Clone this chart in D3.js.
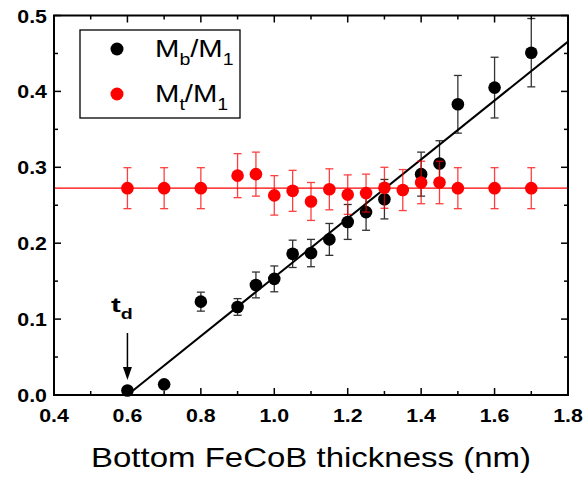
<!DOCTYPE html>
<html><head><meta charset="utf-8">
<script src="https://cdn.jsdelivr.net/npm/d3@7"></script>
<style>body{margin:0;background:#fff}svg{display:block}text{font-family:Arial,"Liberation Sans",sans-serif}</style>
</head><body><svg id="c" width="585" height="477"></svg>
<script>
const xTicks = [0.4, 0.6, 0.8, 1.0, 1.2, 1.4, 1.6, 1.8];
const yTicks = [0.0, 0.1, 0.2, 0.3, 0.4, 0.5];
const bX   = [0.6, 0.7, 0.8, 0.9, 0.95, 1.0, 1.05, 1.1, 1.15, 1.2, 1.25, 1.3, 1.4, 1.45, 1.5, 1.6, 1.7];
const bY   = [0.006, 0.014, 0.123, 0.116, 0.145, 0.153, 0.186, 0.187, 0.205, 0.228, 0.241, 0.258, 0.291, 0.305, 0.383, 0.405, 0.451];
const bErr = [0, 0, 0.0125, 0.011, 0.017, 0.017, 0.018, 0.018, 0.021, 0.023, 0.024, 0.026, 0.029, 0.030, 0.038, 0.040, 0.045];
const rX   = [0.6, 0.7, 0.8, 0.9, 0.95, 1.0, 1.05, 1.1, 1.15, 1.2, 1.25, 1.3, 1.35, 1.4, 1.45, 1.5, 1.6, 1.7];
const rY   = [0.2725, 0.2725, 0.2725, 0.289, 0.291, 0.263, 0.269, 0.255, 0.271, 0.264, 0.266, 0.273, 0.270, 0.280, 0.280, 0.2725, 0.2725, 0.2725];
const rErr = [0.027, 0.027, 0.027, 0.029, 0.029, 0.026, 0.027, 0.025, 0.027, 0.026, 0.025, 0.027, 0.027, 0.028, 0.028, 0.027, 0.027, 0.027];
const fitLine = [[0.6, 0.0], [1.8, 0.4656]];
const refLevel = 0.2725;
const seriesNames = ["b", "t"];
const xLabel = "Bottom FeCoB thickness (nm)";

const svg = d3.select("#c");
const L = 54, R = 568, T = 15.5, B = 395;
const x = d3.scaleLinear().domain([0.4, 1.8]).range([L, R]);
const y = d3.scaleLinear().domain([0, 0.5]).range([B, T]);

// text placed with a horizontal stretch (reference glyphs are wide)
function stext(px, py, sx, anchor) {
  return svg.append("g").attr("transform", `translate(${px},${py}) scale(${sx},1)`)
    .append("text").attr("text-anchor", anchor || "start");
}

// ticks (inside)
const g = svg.append("g");
const xMinor = d3.range(0.5, 1.8, 0.2);
const yMinor = d3.range(0.05, 0.5, 0.1);
function drawTicks(vals, len) {
  vals.forEach(v => {
    const px = x(v);
    g.append("line").attr("x1", px).attr("x2", px).attr("y1", B).attr("y2", B - len).attr("stroke", "#000").attr("stroke-width", 1.5);
    g.append("line").attr("x1", px).attr("x2", px).attr("y1", T).attr("y2", T + len).attr("stroke", "#000").attr("stroke-width", 1.5);
  });
}
function drawYTicks(vals, len) {
  vals.forEach(v => {
    const py = y(v);
    g.append("line").attr("x1", L).attr("x2", L + len).attr("y1", py).attr("y2", py).attr("stroke", "#000").attr("stroke-width", 1.5);
    g.append("line").attr("x1", R).attr("x2", R - len).attr("y1", py).attr("y2", py).attr("stroke", "#000").attr("stroke-width", 1.5);
  });
}
drawTicks(xTicks, 7); drawTicks(xMinor, 4);
drawYTicks(yTicks, 7); drawYTicks(yMinor, 4);

// tick labels
xTicks.forEach(v => {
  stext(x(v), 422, 1.22, "middle").attr("font-size", 17.5).attr("font-weight", "bold").text(v.toFixed(1));
});
yTicks.forEach(v => {
  stext(47, y(v) + 7, 1.22, "end").attr("font-size", 17.5).attr("font-weight", "bold").text(v.toFixed(1));
});

// reference line
svg.append("line").attr("x1", x(0.4)).attr("x2", x(1.8)).attr("y1", y(refLevel)).attr("y2", y(refLevel))
  .attr("stroke", "#ff0000").attr("stroke-width", 1.3);

function errBars(xs, ys, es, color, op) {
  xs.forEach((xv, i) => {
    if (!es[i]) return;
    const px = x(xv), y1 = y(ys[i] + es[i]), y2 = y(ys[i] - es[i]);
    const eg = svg.append("g").attr("stroke", color).attr("stroke-width", 1.3).attr("opacity", op);
    eg.append("line").attr("x1", px).attr("x2", px).attr("y1", y1).attr("y2", y2);
    eg.append("line").attr("x1", px - 4).attr("x2", px + 4).attr("y1", y1).attr("y2", y1);
    eg.append("line").attr("x1", px - 4).attr("x2", px + 4).attr("y1", y2).attr("y2", y2);
  });
}
errBars(bX, bY, bErr, "#000", 0.8);
svg.append("g").selectAll("circle").data(bX).join("circle")
  .attr("cx", d => x(d)).attr("cy", (d, i) => y(bY[i])).attr("r", 6.3).attr("fill", "#000");

// fit line
svg.append("path").attr("d", d3.line().x(d => x(d[0])).y(d => y(d[1]))(fitLine))
  .attr("stroke", "#000").attr("stroke-width", 2).attr("fill", "none");

errBars(rX, rY, rErr, "#ff0000", 0.75);
svg.append("g").selectAll("circle").data(rX).join("circle")
  .attr("cx", d => x(d)).attr("cy", (d, i) => y(rY[i])).attr("r", 6.3).attr("fill", "#ff0000");

// frame
svg.append("rect").attr("x", L).attr("y", T).attr("width", R - L).attr("height", B - T)
  .attr("fill", "none").attr("stroke", "#000").attr("stroke-width", 2);

// legend
svg.append("rect").attr("x", 80).attr("y", 30).attr("width", 160).attr("height", 88)
  .attr("fill", "#fff").attr("stroke", "#000").attr("stroke-width", 1.3);
const legColors = ["#000", "#ff0000"];
seriesNames.forEach((s, i) => {
  const cy = 49 + i * 45;
  svg.append("circle").attr("cx", 117).attr("cy", cy).attr("r", 6.5).attr("fill", legColors[i]);
  const t = stext(155, cy + 8, 1.22).attr("font-size", 24);
  t.append("tspan").text("M");
  t.append("tspan").attr("font-size", 16).attr("dy", 8).text(s);
  t.append("tspan").attr("dy", -8).text("/M");
  t.append("tspan").attr("font-size", 16).attr("dy", 8).text("1");
});

// t_d annotation
const td = stext(111, 312, 1.4).attr("font-size", 21).attr("font-weight", "bold");
td.append("tspan").text("t");
td.append("tspan").attr("font-size", 14).attr("dy", 7).text("d");
const ax = x(0.6);
svg.append("line").attr("x1", ax).attr("x2", ax).attr("y1", 333).attr("y2", 372).attr("stroke", "#000").attr("stroke-width", 1.5);
svg.append("path").attr("d", `M${ax-4.5},367 L${ax+4.5},367 L${ax},380 Z`).attr("fill", "#000");

// x label
svg.append("text").attr("x", (L + R) / 2).attr("y", 467).attr("text-anchor", "middle")
  .attr("font-size", 28.5).attr("textLength", 440).attr("lengthAdjust", "spacingAndGlyphs").text(xLabel);
</script></body></html>
